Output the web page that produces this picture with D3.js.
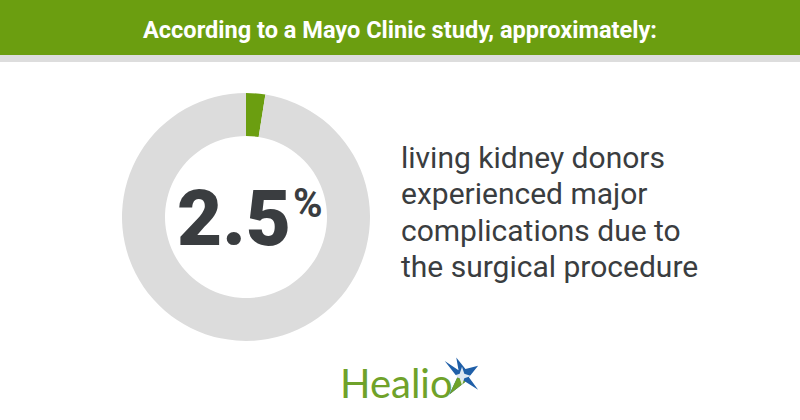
<!DOCTYPE html>
<html>
<head>
<meta charset="utf-8">
<script src="https://cdn.jsdelivr.net/npm/d3@7"></script>
<style>
  body { margin: 0; background: #fff; }
  svg { display: block; font-family: Roboto, "Noto Sans", sans-serif; }
</style>
</head>
<body>
<div id="chart"></div>
<script>
// data
var headline = "According to a Mayo Clinic study, approximately:";
var categories = ["major complications", "no major complications"];
var shares = [2.5, 97.5];
var statLabel = "2.5";
var captionLines = ["living kidney donors", "experienced major", "complications due to", "the surgical procedure"];

var green = "#6b9e10", grey = "#dcdcdc", ink = "#3a3d40";

var svg = d3.select("#chart")
	.append("svg")
		.attr("width", 800)
		.attr("height", 420)
		.attr("viewBox", [0, 0, 800, 420]);

// header band
svg.append("rect").attr("x", 0).attr("y", 0).attr("width", 800).attr("height", 55).attr("fill", green);
svg.append("rect").attr("x", 0).attr("y", 55).attr("width", 800).attr("height", 7).attr("fill", "#dddddd");
svg.append("text")
	.attr("x", 143)
	.attr("y", 38)
	.attr("textLength", 514)
	.attr("lengthAdjust", "spacingAndGlyphs")
	.style("font-size", "24px")
	.style("font-weight", "bold")
	.attr("fill", "#fff")
	.text(headline);

// donut
var pie = d3.pie().sort(null).value(d => d);
var arc = d3.arc().innerRadius(81).outerRadius(124);

var donut = svg.append("g").attr("transform", "translate(246,217)");
donut.selectAll("path")
	.data(pie(shares))
	.join("path")
	.attr("d", arc)
	.attr("fill", (d, i) => i == 0 ? green : grey);

donut.append("text")
	.attr("x", -69)
	.attr("y", 28)
	.style("font-size", "78px")
	.style("font-weight", "900")
	.attr("fill", ink)
	.text(statLabel);
donut.append("text")
	.attr("x", 47)
	.attr("y", 0)
	.style("font-size", "40px")
	.style("font-weight", "bold")
	.attr("fill", ink)
	.text("%");

// caption
svg.append("g")
	.selectAll("text")
	.data(captionLines)
	.join("text")
	.attr("x", 401)
	.attr("y", (d, i) => 168 + i * 36.3)
	.style("font-size", "30px")
	.attr("fill", ink)
	.text(d => d);

// logo
var logo = svg.append("g");
logo.append("text")
	.attr("x", 340)
	.attr("y", 398)
	.style("font-family", "Lato, 'Open Sans', sans-serif")
	.style("font-size", "40px")
	.attr("fill", "#6fa22a")
	.text("Healio");
// star mark
var star = logo.append("g").attr("transform", "translate(462,376) scale(1.15)");
star.append("path")
	.attr("d", "M-15,-13 L-3,-5 L-5,-16 L3,-6 L14,-9 L6,1 L14,12 L3,5 L-11,16 L-4,1 Z")
	.attr("fill", "#1f5fa8");
star.append("path")
	.attr("d", "M-11,16 L-4,1 L3,5 Z")
	.attr("fill", "#6fa22a");
star.append("path")
	.attr("d", "M0,-8 L2,-2 L8,0 L2,2 L0,8 L-2,2 L-8,0 L-2,-2 Z")
	.attr("fill", "#ffffff")
	.attr("opacity", 0.85);
</script>
</body>
</html>
